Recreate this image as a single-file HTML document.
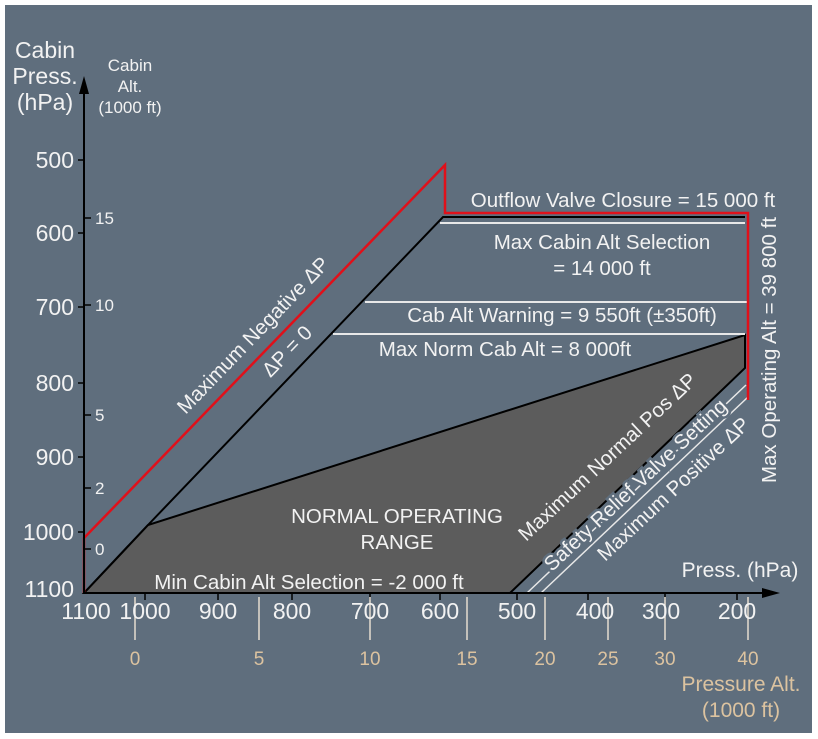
<!DOCTYPE html>
<html><head><style>
body{margin:0;background:#fff}
svg{display:block}
text{font-family:"Liberation Sans",sans-serif;fill:#f2f2f2}
text.tan{fill:#dcc3a0}
</style></head><body>
<svg width="818" height="739" viewBox="0 0 818 739">
<rect x="5" y="5" width="807" height="728" fill="#5f6e7d"/>
<!-- gray normal region -->
<polygon points="84,593 148,525 745,335 745,368 510,593" fill="#5c5c5c" stroke="#000" stroke-width="2"/>
<polyline points="84,593 148,525 443,217 745,217" fill="none" stroke="#000" stroke-width="2"/>
<line x1="745" y1="335" x2="745" y2="368" stroke="#000" stroke-width="2"/>
<line x1="440" y1="223" x2="745" y2="223" stroke="#e8e8e8" stroke-width="2"/>
<line x1="365" y1="302" x2="748" y2="302" stroke="#e8e8e8" stroke-width="2"/>
<line x1="333" y1="334" x2="745" y2="334" stroke="#e8e8e8" stroke-width="2"/>
<line x1="527" y1="593" x2="746" y2="385" stroke="#e8e8e8" stroke-width="1.5"/>
<line x1="541" y1="593" x2="748" y2="397" stroke="#e8e8e8" stroke-width="1.5"/>
<polyline points="84,593 84,538 445,165 445,213 748,213 748,400" fill="none" stroke="#e0101a" stroke-width="2.5"/>
<line x1="84" y1="593" x2="84" y2="90" stroke="#000" stroke-width="2"/>
<polygon points="84,76 79,94 89,94" fill="#000"/>
<line x1="84" y1="593" x2="765" y2="593" stroke="#000" stroke-width="2"/>
<polygon points="780,593 762,588 762,598" fill="#000"/>
<g stroke="#000" stroke-width="1.5">
<line x1="78" y1="160" x2="84" y2="160"/><line x1="78" y1="233" x2="84" y2="233"/><line x1="78" y1="307" x2="84" y2="307"/><line x1="78" y1="383" x2="84" y2="383"/><line x1="78" y1="457" x2="84" y2="457"/><line x1="78" y1="532" x2="84" y2="532"/>
<line x1="84" y1="218" x2="91" y2="218"/><line x1="84" y1="305" x2="91" y2="305"/><line x1="84" y1="415" x2="91" y2="415"/><line x1="84" y1="488" x2="91" y2="488"/><line x1="84" y1="549" x2="91" y2="549"/>
<line x1="145" y1="593" x2="145" y2="600"/><line x1="218" y1="593" x2="218" y2="600"/><line x1="292" y1="593" x2="292" y2="600"/><line x1="370" y1="593" x2="370" y2="600"/><line x1="440" y1="593" x2="440" y2="600"/><line x1="517" y1="593" x2="517" y2="600"/><line x1="588" y1="593" x2="588" y2="600"/><line x1="665" y1="593" x2="665" y2="600"/><line x1="737" y1="593" x2="737" y2="600"/>
</g>
<g stroke="#e6ddd0" stroke-width="1.5">
<line x1="135" y1="597" x2="135" y2="640"/><line x1="259" y1="597" x2="259" y2="640"/><line x1="370" y1="597" x2="370" y2="640"/><line x1="467" y1="597" x2="467" y2="640"/><line x1="545" y1="597" x2="545" y2="640"/><line x1="608" y1="597" x2="608" y2="640"/><line x1="665" y1="597" x2="665" y2="640"/><line x1="748" y1="597" x2="748" y2="640"/>
</g>
<g font-size="23" text-anchor="middle"><text x="45" y="58">Cabin</text><text x="45" y="84">Press.</text><text x="45" y="110">(hPa)</text></g>
<g font-size="17" text-anchor="middle"><text x="130" y="71">Cabin</text><text x="130" y="92">Alt.</text><text x="130" y="113">(1000 ft)</text></g>
<g font-size="23" text-anchor="end">
<text x="74" y="168">500</text><text x="74" y="241">600</text><text x="74" y="315">700</text><text x="74" y="391">800</text><text x="74" y="465">900</text><text x="74" y="540">1000</text><text x="74" y="597">1100</text></g>
<g font-size="17"><text x="95" y="224">15</text><text x="95" y="311">10</text><text x="95" y="421">5</text><text x="95" y="494">2</text><text x="95" y="555">0</text></g>
<g font-size="23" text-anchor="middle">
<text x="86" y="619">1100</text><text x="145" y="619">1000</text><text x="218" y="619">900</text><text x="292" y="619">800</text><text x="370" y="619">700</text><text x="440" y="619">600</text><text x="517" y="619">500</text><text x="595" y="619">400</text><text x="661" y="619">300</text><text x="737" y="619">200</text></g>
<g font-size="19" text-anchor="middle">
<text class="tan" x="135" y="665">0</text><text class="tan" x="259" y="665">5</text><text class="tan" x="370" y="665">10</text><text class="tan" x="467" y="665">15</text><text class="tan" x="545" y="665">20</text><text class="tan" x="608" y="665">25</text><text class="tan" x="665" y="665">30</text><text class="tan" x="748" y="665">40</text>
</g>
<g font-size="21" text-anchor="middle"><text class="tan" x="741" y="691">Pressure Alt.</text><text class="tan" x="741" y="717">(1000 ft)</text></g>
<text x="740" y="577" font-size="21" text-anchor="middle">Press. (hPa)</text>
<g font-size="20.5" text-anchor="middle">
<text x="623" y="207">Outflow Valve Closure = 15 000 ft</text>
<text x="602" y="249">Max Cabin Alt Selection</text>
<text x="602" y="275">= 14 000 ft</text>
<text x="562" y="322">Cab Alt Warning = 9 550ft (±350ft)</text>
<text x="505" y="356">Max Norm Cab Alt = 8 000ft</text>
<text x="397" y="523">NORMAL OPERATING</text>
<text x="397" y="549">RANGE</text>
<text x="309" y="589">Min Cabin Alt Selection = -2 000 ft</text>
<text transform="translate(258,340) rotate(-46)">Maximum Negative ΔP</text>
<text transform="translate(292,356) rotate(-46)">ΔP = 0</text>
<text transform="translate(612,462) rotate(-43)">Maximum Normal Pos ΔP</text>
<text transform="translate(640,490) rotate(-43)" stroke="#5f6e7d" stroke-width="5" paint-order="stroke">Safety Relief Valve Setting</text>
<text transform="translate(678,494) rotate(-43)">Maximum Positive ΔP</text>
<text transform="translate(776,350) rotate(-90)">Max Operating Alt = 39 800 ft</text>
</g>
</svg>
</body></html>
